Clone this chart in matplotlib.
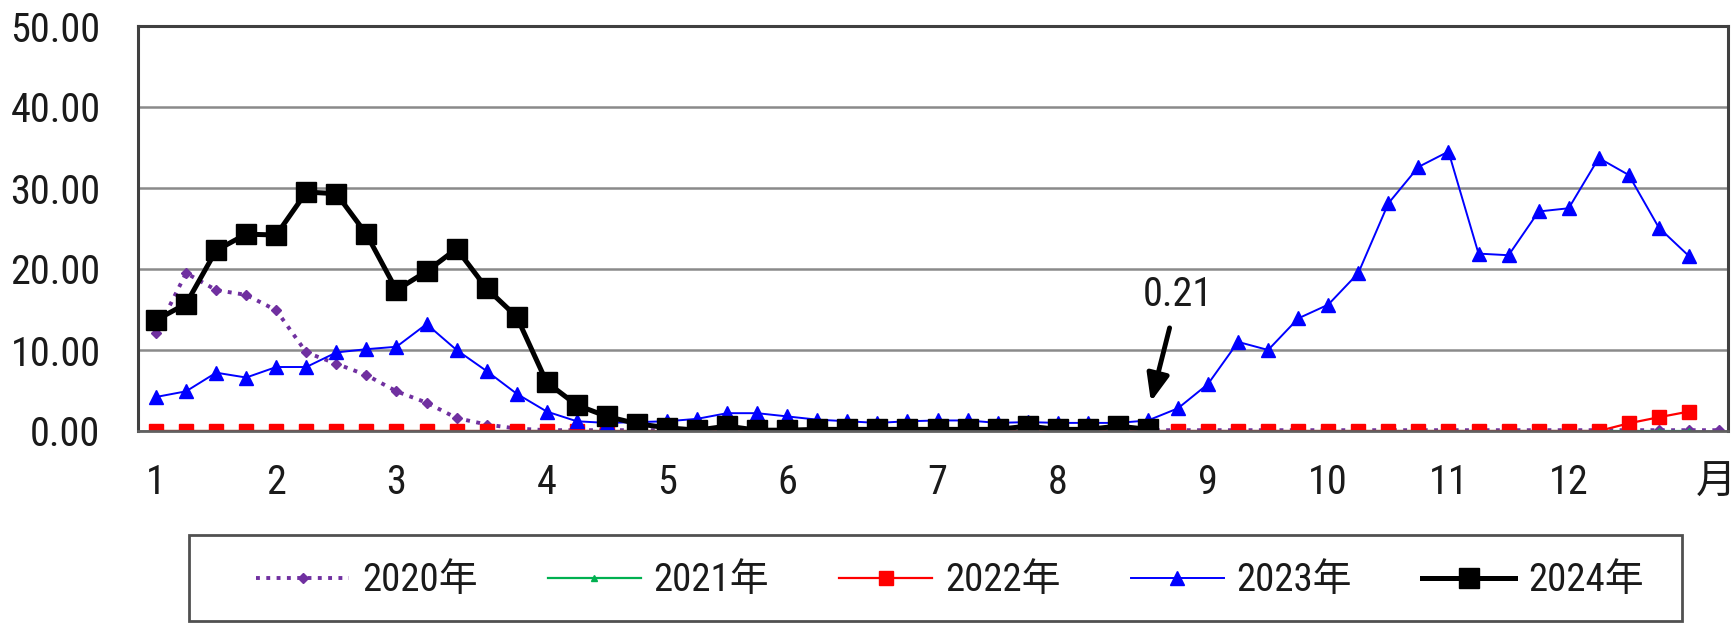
import matplotlib
matplotlib.use('Agg')
import matplotlib.pyplot as plt
from matplotlib import font_manager
from matplotlib.patches import Rectangle

# weekly values, one point per week
weeks_2020 = [12.1, 19.5, 17.4, 16.8, 14.9, 9.7, 8.3, 6.9, 4.9, 3.5,
              1.6, 0.8, 0.3, 0.1, 0.1, 0.1, 0.1, 0.1, 0.1, 0.1,
              0.1, 0.1, 0.1, 0.1, 0.1, 0.1, 0.1, 0.1, 0.1, 0.1,
              0.1, 0.1, 0.1, 0.1, 0.1, 0.1, 0.1, 0.1, 0.1, 0.1,
              0.1, 0.1, 0.1, 0.1, 0.1, 0.1, 0.1, 0.1, 0.1, 0.1,
              0.1, 0.1, 0.1]
weeks_2021 = [0.0] * 52
weeks_2022 = [0.0] * 49 + [0.95, 1.7, 2.4]
weeks_2023 = [4.2, 4.9, 7.2, 6.6, 7.9, 7.9, 9.7, 10.1, 10.4, 13.2,
              10.0, 7.4, 4.6, 2.4, 1.2, 1.0, 1.1, 1.2, 1.5, 2.2,
              2.2, 1.8, 1.4, 1.2, 1.0, 1.2, 1.3, 1.3, 1.0, 1.1,
              1.0, 1.0, 1.0, 1.3, 2.8, 5.8, 11.0, 10.0, 13.9, 15.6,
              19.5, 28.1, 32.6, 34.5, 21.9, 21.7, 27.1, 27.5, 33.7, 31.6,
              25.1, 21.6]
weeks_2024 = [13.7, 15.7, 22.3, 24.3, 24.2, 29.5, 29.3, 24.3, 17.4, 19.7,
              22.5, 17.6, 14.1, 6.0, 3.2, 1.8, 0.9, 0.4, 0.1, 0.6,
              0.1, 0.1, 0.2, 0.2, 0.2, 0.2, 0.2, 0.2, 0.2, 0.6,
              0.2, 0.2, 0.6, 0.21]

month_pos = [0, 4, 8, 13, 17, 21, 26, 30, 35, 39, 43, 47, 51.9]
month_labels = ['1', '2', '3', '4', '5', '6', '7', '8', '9', '10', '11', '12', '月']
y_ticks = [0, 10, 20, 30, 40, 50]

# the original uses a tall, narrow face; take a condensed one if present
installed = {f.name for f in font_manager.fontManager.ttflist}
narrow = [n for n in ['Liberation Sans Narrow', 'Roboto Condensed', 'Open Sans Condensed']
          if n in installed]
if narrow:
    plt.rcParams['font.family'] = [narrow[0], 'Noto Sans CJK SC', 'DejaVu Sans']
    TICK_FS, LEG_FS = 29, 28
else:
    plt.rcParams['font.family'] = ['Noto Sans CJK SC', 'DejaVu Sans']
    TICK_FS, LEG_FS = 24.5, 24
TEXT = '#1a1a1a'

fig = plt.figure(figsize=(17.34, 6.23), dpi=100)
W, H = 1734., 623.
ax = fig.add_axes([138 / W, 1 - 431 / H, (1728 - 138) / W, (431 - 26) / H])

ax.plot(range(len(weeks_2020)), weeks_2020, color='#7030A0', lw=2.8, ls=':',
        marker='D', ms=5.5, label='2020年')
ax.plot(range(len(weeks_2021)), weeks_2021, color='#00B050', lw=1.6,
        marker='^', ms=4, label='2021年')
ax.plot(range(len(weeks_2022)), weeks_2022, color='#FF0000', lw=1.6,
        marker='s', ms=9.5, label='2022年')
ax.plot(range(len(weeks_2023)), weeks_2023, color='#0000FF', lw=1.4,
        marker='^', ms=10, label='2023年')
ax.plot(range(len(weeks_2024)), weeks_2024, color='black', lw=3.6,
        marker='s', ms=14, label='2024年')

# label for the latest 2024 value
last = len(weeks_2024) - 1
ax.annotate('%.2f' % weeks_2024[last], xy=(last + 0.1, weeks_2024[last] + 3.4),
            xytext=(last + 1.0, weeks_2024[last] + 16.6), fontsize=TICK_FS, color=TEXT,
            ha='center', va='center',
            arrowprops=dict(arrowstyle='-|>,head_length=1.1,head_width=0.45',
                            mutation_scale=15, lw=3.5, color='black',
                            shrinkA=8, shrinkB=0))

ax.set_xlim(-0.6, 52.3)
ax.set_ylim(0, 50)
ax.set_yticks(y_ticks)
ax.set_yticklabels(['%.2f' % v for v in y_ticks])
ax.set_xticks(month_pos)
ax.set_xticklabels(month_labels)
ax.tick_params(axis='y', length=0, pad=27, labelsize=TICK_FS, labelcolor=TEXT)
ax.tick_params(axis='x', length=0, pad=23, labelsize=TICK_FS, labelcolor=TEXT)

ax.grid(axis='y', color='#8a8a8a', lw=1.8)
ax.set_axisbelow(True)
for side in ['top', 'left', 'right']:
    ax.spines[side].set_color('#404040')
    ax.spines[side].set_linewidth(2.2)
ax.spines['bottom'].set_color('#606060')
ax.spines['bottom'].set_linewidth(2.0)

# legend frame, its lower edge sits at the very bottom of the picture
fig.patches.append(Rectangle((189 / W, 1 - 621 / H), (1682 - 189) / W, (621 - 535) / H,
                             transform=fig.transFigure, fill=False,
                             edgecolor='#505050', lw=2.0))
fs_px = LEG_FS * 100 / 72.
leg = fig.legend(loc='center left', bbox_to_anchor=(256 / W, 1 - 581 / H),
                 ncol=5, frameon=False, fontsize=LEG_FS, handlelength=93 / fs_px,
                 handletextpad=13 / fs_px, columnspacing=70 / fs_px, borderpad=0,
                 borderaxespad=0, numpoints=1)
for t in leg.get_texts():
    t.set_color(TEXT)

fig.savefig('out.png', dpi=100)
